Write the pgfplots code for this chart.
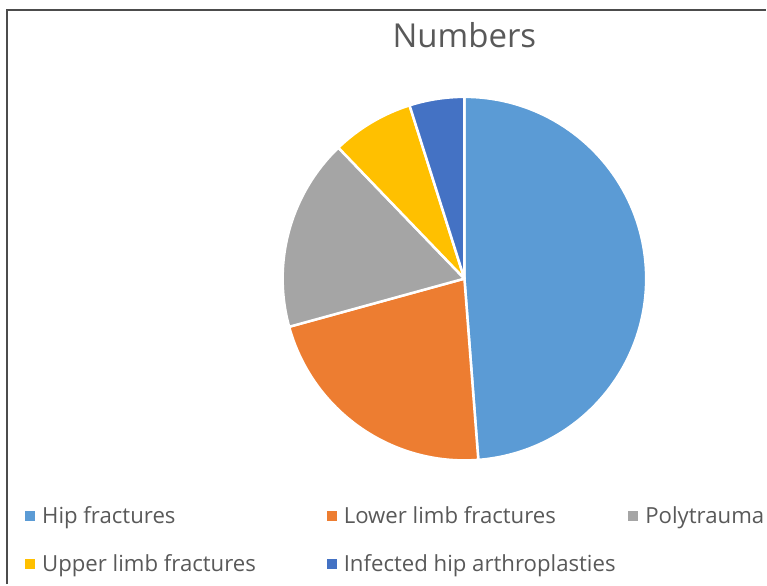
\documentclass[border=0pt]{standalone}
\usepackage{fontspec}
\setmainfont{Open Sans}
\usepackage{pgfplots}
\usepackage{pgfplotstable}
\pgfplotsset{compat=1.18}

\definecolor{slice0}{HTML}{5B9BD5}
\definecolor{slice1}{HTML}{ED7D31}
\definecolor{slice2}{HTML}{A5A5A5}
\definecolor{slice3}{HTML}{FFC000}
\definecolor{slice4}{HTML}{4472C4}
\definecolor{txtgray}{HTML}{595959}

% counts per group
\pgfplotstableread[col sep=comma]{
label,value
Hip fractures,100
Lower limb fractures,45
Polytrauma,35
Upper limb fractures,15
Infected hip arthroplasties,10
}\datatable

\begin{document}
\begin{tikzpicture}
\begin{axis}[
    scale only axis,
    width=767pt, height=585pt,
    xmin=0, xmax=767, ymin=0, ymax=585,
    hide axis, clip=false,
]
\path (axis cs:0,0) rectangle (axis cs:767,585);

% frame of the chart area
\draw[color=black!70, line width=2pt] (axis cs:7.5,0) -- (axis cs:7.5,575) -- (axis cs:767,575);

% title
\node[anchor=base, text=txtgray, font=\fontsize{33}{40}\selectfont] at (axis cs:465,537) {Numbers};

% total
\def\total{0}
\pgfplotsforeachungrouped \i in {0,...,4} {
  \pgfplotstablegetelem{\i}{value}\of\datatable
  \pgfmathsetmacro\total{\total+\pgfplotsretval}
}

% slices, clockwise from the top
\def\cum{0}
\pgfplotsforeachungrouped \i in {0,...,4} {
  \pgfplotstablegetelem{\i}{value}\of\datatable
  \pgfmathsetmacro\a{90-360*(\cum/\total)}
  \pgfmathsetmacro\cum{\cum+\pgfplotsretval}
  \pgfmathsetmacro\b{90-360*(\cum/\total)}
  \edef\temp{\noexpand\fill[slice\i, draw=white, line width=2.5pt, line join=round]
    (axis cs:465,306) -- ++(\a:182pt) arc[start angle=\a, end angle=\b, radius=182pt] -- cycle;}
  \temp
}

% legend
\def\legx{{25,327,629,25,327}}
\def\legy{{68,68,68,20,20}}
\pgfplotsforeachungrouped \i in {0,...,4} {
  \pgfplotstablegetelem{\i}{label}\of\datatable
  \let\lab\pgfplotsretval
  \pgfmathsetmacro\lx{\legx[\i]}
  \pgfmathsetmacro\ly{\legy[\i]}
  \pgfmathsetmacro\tx{\lx+17}
  \pgfmathsetmacro\ty{\ly-7.5}
  \edef\temp{\noexpand\fill[slice\i] (axis cs:\lx,\ly-5) rectangle (axis cs:\lx+10,\ly+5);
    \noexpand\node[anchor=base west, inner sep=0pt, text=txtgray, font=\noexpand\fontsize{22.2}{26}\noexpand\selectfont] at (axis cs:\tx,\ty) {\lab};}
  \temp
}
\end{axis}
\end{tikzpicture}
\end{document}
